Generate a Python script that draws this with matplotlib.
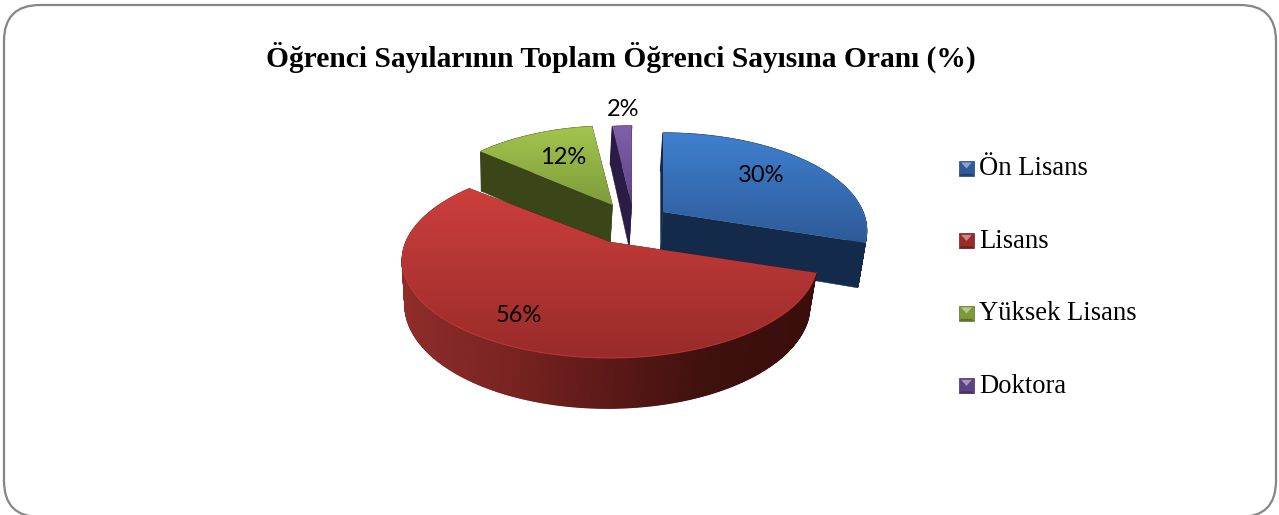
import numpy as np
import matplotlib
matplotlib.use("Agg")
import matplotlib.pyplot as plt
from matplotlib.patches import FancyBboxPatch, Polygon, PathPatch, Patch
from matplotlib.path import Path
from matplotlib.colors import LinearSegmentedColormap
from matplotlib.legend_handler import HandlerPatch

# ---- data ----
title = "Öğrenci Sayılarının Toplam Öğrenci Sayısına Oranı (%)"
categories = ["Ön Lisans", "Lisans", "Yüksek Lisans", "Doktora"]
values = [30, 56, 12, 2]

# ---- styles / layout ----
top_colors = [("#3F80CF", "#2D5A98"), ("#CC3F3C", "#992B2A"), ("#A3C54D", "#7E9B3B"), ("#8060AA", "#5E4285")]
side_colors = ["#142A4A", "#5A1816", "#3A4518", "#2A1C45"]
tips = [(663, 212), (610, 242), (612.5, 205), (631.7, 205)]
x_scale = [0.98, 1.0, 0.94, 0.9]
label_xy = [(761, 176), (519, 316), (563, 158), (623, 109)]
R, K, P, DEPTH, SHRINK, SHIFT = 204, 94, 0.19, 43, 0.025, -2.5

W, H = 1279, 515
fig = plt.figure(figsize=(W / 100, H / 100), dpi=100)
ax = fig.add_axes([0, 0, 1, 1])
ax.set_xlim(0, W)
ax.set_ylim(H, 0)
ax.axis("off")
ax.set_autoscale_on(False)

ax.add_patch(FancyBboxPatch((4, 5), 1272, 512, boxstyle="round,pad=0,rounding_size=36",
                            fc="white", ec="#868686", lw=1.6, zorder=0, clip_on=True))


def project(tip, ang, r, z=0.0, sx=1.0):
    """ang clockwise from the far point of the disc, r in 0..1, z 0 top..1 bottom."""
    x = r * np.sin(ang)
    y = -r * np.cos(ang)  # positive = toward the viewer
    f = 1 / (1 - P * y)
    s = 1 - SHRINK * z
    return (tip[0] + R * sx * x * f * s + SHIFT * z, tip[1] + K * y * f * s + DEPTH * z * f)


def grad_fill(poly, colors, z):
    cmap = LinearSegmentedColormap.from_list("g", colors)
    xs, ys = poly[:, 0], poly[:, 1]
    patch = PathPatch(Path(np.vstack([poly, poly[0]]), closed=True), fc="none", ec="none", zorder=z)
    ax.add_patch(patch)
    ramp = np.linspace(0, 1, 256)
    im = ax.imshow(ramp[:, None], cmap=cmap, aspect="auto", origin="upper", vmin=0, vmax=1,
                   extent=(xs.min(), xs.max(), ys.max(), ys.min()), zorder=z, interpolation="bilinear")
    im.set_clip_path(patch)


red_rim = LinearSegmentedColormap.from_list("rim", ["#8E2D2A", "#7A2421", "#5C1917", "#3E100E", "#3A0E0C"])

fracs = np.array(values) / sum(values)
edges = np.concatenate([[0], np.cumsum(fracs)]) * 2 * np.pi
order = [2, 3, 0, 1]
for n, i in enumerate(order):
    a0, a1 = edges[i], edges[i + 1]
    tip = tips[i]
    sx = x_scale[i]
    angs = np.linspace(a0, a1, 2 * max(int(np.degrees(a1 - a0)), 4) + 1)
    base = 10 + n * 2
    # extruded walls
    rim_xy = [project(tip, a, 1, 0, sx) for a in angs]
    rim_xyb = [project(tip, a, 1, 1, sx) for a in angs]
    tb = project(tip, 0, 0, 1, sx)
    for start in (a0, a1):
        q = [tip, project(tip, start, 1, 0, sx), project(tip, start, 1, 1, sx), tb]
        ax.add_patch(Polygon(q, fc=side_colors[i], ec=side_colors[i], lw=0.3, zorder=base))
    xmin, xmax = min(p[0] for p in rim_xy), max(p[0] for p in rim_xy)
    for k in range(len(angs) - 1):
        q = [rim_xy[k], rim_xy[k + 1], rim_xyb[k + 1], rim_xyb[k]]
        c = red_rim((q[0][0] - xmin) / (xmax - xmin)) if i == 1 else side_colors[i]
        ax.add_patch(Polygon(q, fc=c, ec=c, lw=0.9, zorder=base))
    # top face
    poly = np.array([tip] + rim_xy)
    grad_fill(poly, top_colors[i], base + 1)
    r = np.array(rim_xy)
    ax.plot(r[:, 0], r[:, 1], color=top_colors[i][0], lw=0.7, alpha=0.7, zorder=base + 1)

for v, (x, y) in zip(values, label_xy):
    ax.text(x, y, f"{v}%", ha="center", va="center", fontsize=17, family="Lato", color="black", zorder=40)

ax.text(621, 57, title, ha="center", va="center", fontsize=21.25, fontweight="bold",
        family="Liberation Serif", color="black")


class Bevel(HandlerPatch):
    def create_artists(self, legend, orig, xd, yd, w, h, fs, trans):
        c = orig.get_facecolor()[:3]
        light = tuple(min(1, v * 0.55 + 0.45) for v in c)
        dark = tuple(v * 0.72 for v in c)
        h2 = w
        y0 = yd + (h - h2) / 2
        x0 = xd
        b = 0.14 * w
        m = (x0 + w / 2, y0 + h2 * 0.5)
        arts = [Polygon([(x0, y0), (x0 + w, y0), (x0 + w, y0 + h2), (x0, y0 + h2)], fc=c, ec=dark, lw=0.5),
                Polygon([(x0 + b, y0 + h2 - 1), (x0 + w - b, y0 + h2 - 1), m], fc=light, ec="none"),
                Polygon([(x0, y0), (x0 + w, y0), (x0 + w - b, y0 + b), (x0 + b, y0 + b)], fc=dark, ec="none")]
        for a in arts:
            a.set_transform(trans)
        return arts


handles = [Patch(fc=top_colors[i][1], label=categories[i]) for i in range(4)]
ax.legend(handles=handles, loc="center left", bbox_to_anchor=(959, 277.5), bbox_transform=ax.transData,
          frameon=False, handlelength=0.56, handleheight=0.56, handletextpad=0.19, borderpad=0, borderaxespad=0,
          labelspacing=1.78, handler_map={Patch: Bevel()},
          prop={"family": "Liberation Serif", "size": 19.2})

fig.savefig("out.png", dpi=100)
